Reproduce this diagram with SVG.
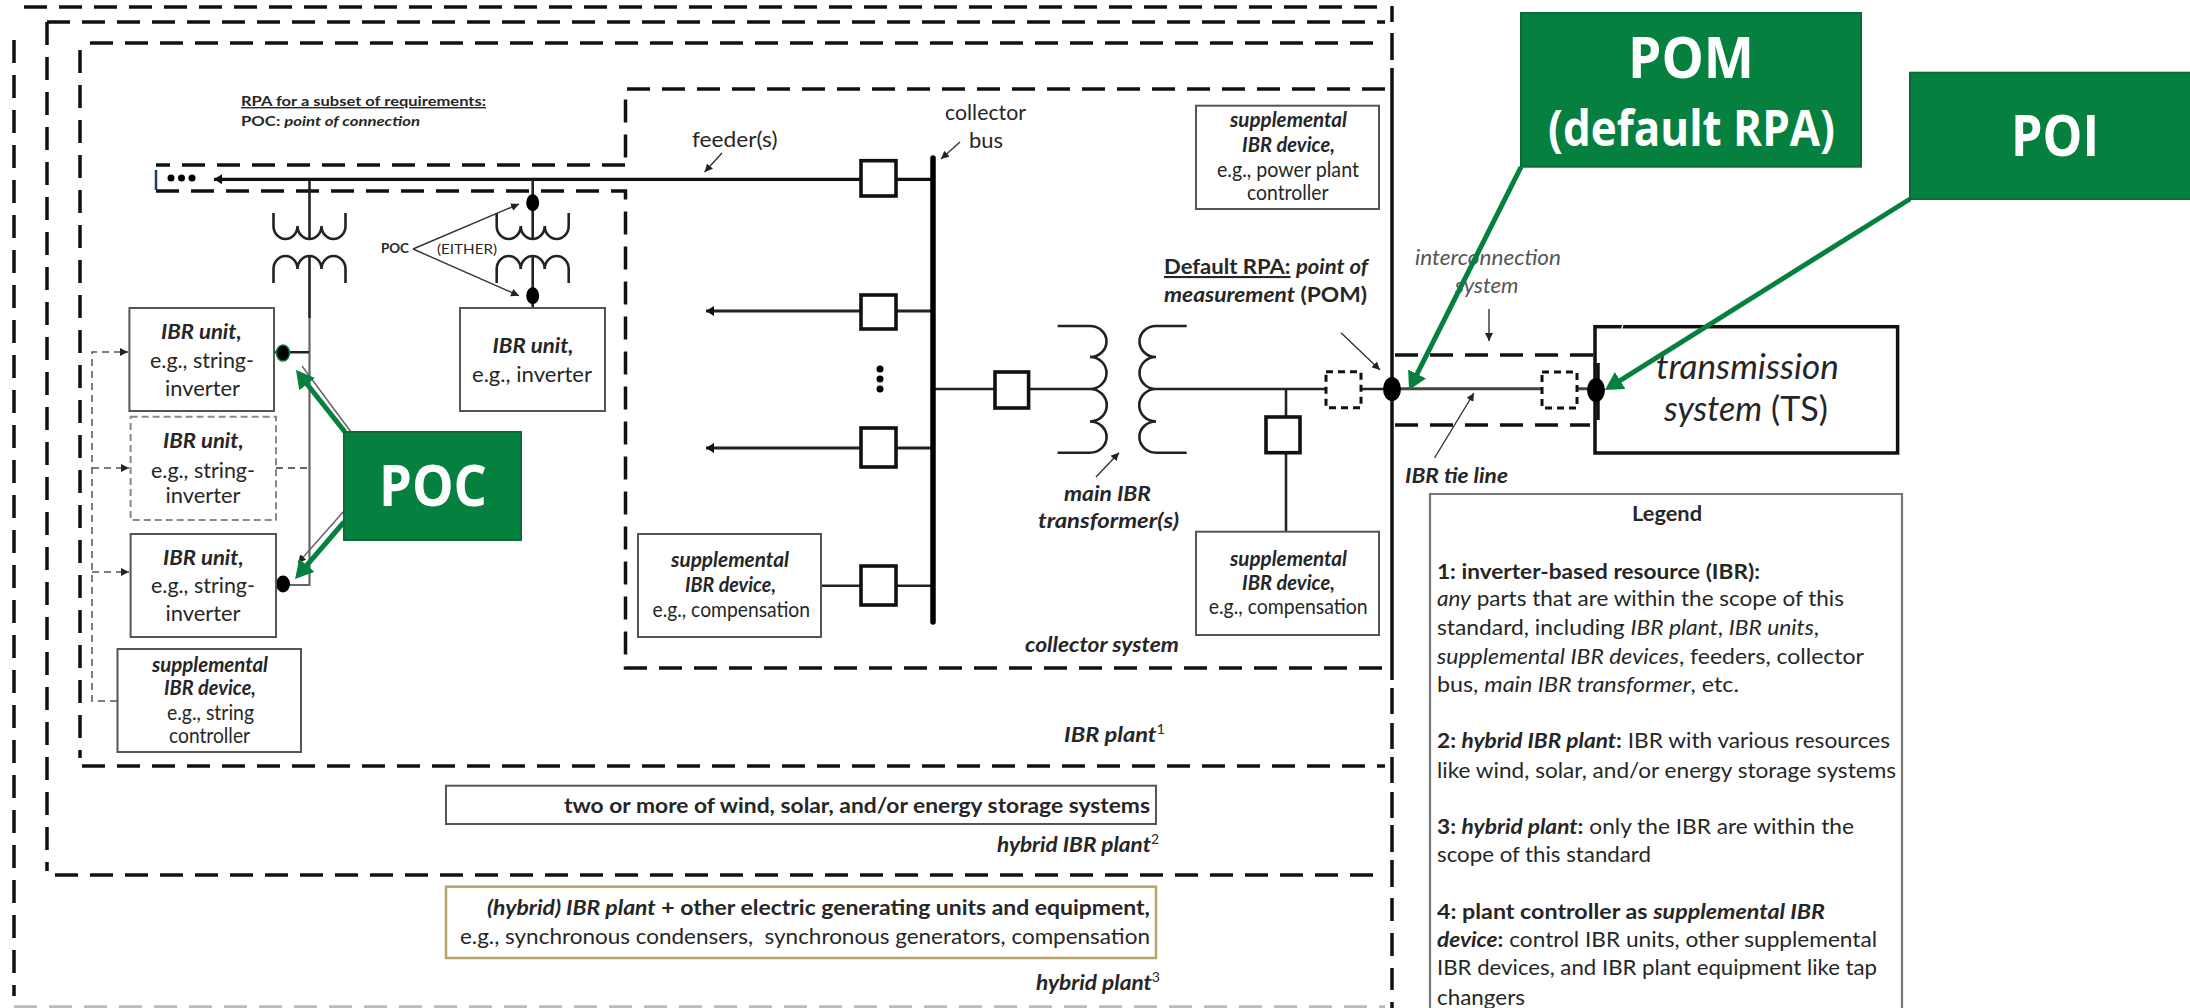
<svg xmlns="http://www.w3.org/2000/svg" width="2190" height="1008" viewBox="0 0 2190 1008">
<style>
text{font-family:Lato,"Noto Sans","Liberation Sans",sans-serif;fill:#262626;font-size:21px;white-space:pre}
.b{font-weight:700}.i{font-style:italic}.bi{font-weight:700;font-style:italic}
.d{fill:none;stroke:#111;stroke-width:3.5;stroke-dasharray:23 12}
.box{fill:#fff;stroke:#555;stroke-width:2}
.w{fill:none;stroke:#222;stroke-width:2.6}
.l{fill:none;stroke:#222;stroke-width:2.6}
.br{fill:#fff;stroke:#111;stroke-width:3.6}
.dbr{fill:#fff;stroke:#111;stroke-width:3;stroke-dasharray:7 5}
.thin{fill:none;stroke:#333;stroke-width:1.4;marker-end:url(#a)}
.ctl{fill:none;stroke:#555;stroke-width:1.5;stroke-dasharray:7 5}
.g{fill:#05803e;stroke:#0a6b38;stroke-width:2}
.gt{fill:#fff;font-family:"Open Sans","Noto Sans",sans-serif;font-weight:700}
.ga{fill:none;stroke:#05803e;stroke-width:5;marker-end:url(#ga)}
</style>
<defs>
<marker id="a" markerUnits="userSpaceOnUse" markerWidth="9" markerHeight="9" refX="8" refY="4" orient="auto"><path d="M0,0L8,4L0,8z" fill="#222"/></marker>
<marker id="f" markerUnits="userSpaceOnUse" markerWidth="10" markerHeight="12" refX="8" refY="6" orient="auto"><path d="M0,1L8,6L0,11z" fill="#111"/></marker>
<marker id="ga" markerUnits="userSpaceOnUse" markerWidth="24" markerHeight="24" refX="12" refY="10" orient="auto"><path d="M0,0L18,10L0,20z" fill="#05803e"/></marker>
</defs>
<rect width="2190" height="1008" fill="#fff"/>

<g id="boundaries">
<path class="d" d="M14,40V996"/>
<path class="d" d="M24,7H1380"/>
<path class="d" style="stroke:#bbb" d="M14,1007H1385"/>
<path class="d" d="M47,22H1385M47,22V871M55,875H1385"/>
<path class="d" d="M90,43H1385M80,50V758M82,766H1385"/>
<path class="d" d="M1385,89H625.5V164"/>
<path class="d" d="M625,165H156"/>
<path class="d" d="M156,191H625.5V668H1385"/>
<path d="M156,170V190" fill="none" stroke="#1f3a7a" stroke-width="2.5"/>
<path fill="none" stroke="#111" stroke-width="3.5" d="M1392,6V22M1392,33V60M1392,68V680M1392,688V714M1392,723V749M1392,757V783M1392,792V818M1392,825V852M1392,860V887M1392,898V921M1392,933V956M1392,968V990M1392,1002V1008"/>
<path class="d" d="M1395,355H1595M1395,425H1590"/>
</g>

<g id="connectors">
<path d="M933,179.300H214" fill="none" stroke="#111" stroke-width="3.2" marker-end="url(#f)"/>
<path d="M933,311H706" fill="none" stroke="#222" stroke-width="2.8" marker-end="url(#f)"/>
<path d="M933,448H706" fill="none" stroke="#222" stroke-width="2.8" marker-end="url(#f)"/>
<path class="l" d="M821,585.700H933M933,389H1090M1156,389H1392M1286,389V532"/>
<path d="M1392,388.700H1596" fill="none" stroke="#444" stroke-width="3"/>
<path d="M933,158V622" fill="none" stroke="#000" stroke-width="5.500" stroke-linecap="round"/>
<path class="l" d="M309.500,180V240M309.500,256V318"/>
<path d="M309.500,318V585H276" fill="none" stroke="#666" stroke-width="2.200"/>
<path class="l" d="M274,352.300H309"/>
<path d="M276,468H309" fill="none" stroke="#666" stroke-width="2" stroke-dasharray="7 5"/>
<path class="l" d="M532.700,180V240M532.700,256V308"/>
<path class="w" d="M273.500,213V226a12,13 0 0 0 24,0a12,13 0 0 0 24,0a12,13 0 0 0 24,0V213M273.500,283V269a12,13 0 0 1 24,0a12,13 0 0 1 24,0a12,13 0 0 1 24,0V283"/>
<path class="w" d="M496.700,213V226a12,13 0 0 0 24,0a12,13 0 0 0 24,0a12,13 0 0 0 24,0V213M496.700,283V269a12,13 0 0 1 24,0a12,13 0 0 1 24,0a12,13 0 0 1 24,0V283"/>
<path class="w" d="M1057.600,326H1090A16.500,15.500 0 0 1 1090,357A16.500,16 0 0 1 1090,389A16.500,16 0 0 1 1090,421.500A16.500,15.500 0 0 1 1090,452.700H1057.600"/>
<path class="w" d="M1186.700,326H1156A16.500,15.500 0 0 0 1156,357A16.500,16 0 0 0 1156,389A16.500,16 0 0 0 1156,421.500A16.500,15.500 0 0 0 1156,452.700H1186.700"/>
<path class="ctl" d="M117,701H92V352H128" marker-end="url(#a)"/>
<path class="ctl" d="M92,468H129" marker-end="url(#a)"/>
<path class="ctl" d="M92,572H129" marker-end="url(#a)"/>
<path class="thin" d="M413,249L519,204"/>
<path class="thin" d="M413,249L519,295.700"/>
<path class="thin" d="M722,153L704.600,172"/>
<path class="thin" d="M960,142L941,159"/>
<path class="thin" d="M1341,332.700L1380,370"/>
<path class="thin" d="M1096,477L1119,452.700"/>
<path class="thin" d="M1489,309V341"/>
<path class="thin" d="M1434.500,458L1474,393"/>
<path d="M351,432L302,366M344,511L298,563" fill="none" stroke="#666" stroke-width="1.500" marker-end="url(#a)"/>
</g>

<g id="dots" fill="#000">
<circle cx="171" cy="178" r="3.500"/><circle cx="181.500" cy="178" r="3.500"/><circle cx="192" cy="178" r="3.500"/>
<circle cx="880" cy="369" r="3.500"/><circle cx="880" cy="379" r="3.500"/><circle cx="880" cy="389" r="3.500"/>
<ellipse cx="283" cy="353" rx="6.500" ry="8" stroke="#05803e" stroke-width="1.500"/>
<ellipse cx="283" cy="584" rx="7" ry="8.500"/>
<ellipse cx="532.700" cy="202.700" rx="6.500" ry="8.500"/>
<ellipse cx="532.700" cy="295.700" rx="6.500" ry="8.500"/>
<ellipse cx="1392" cy="389" rx="9" ry="12"/>
</g>

<g id="breakers">
<rect class="br" x="861" y="160.700" width="35" height="35.300"/>
<rect class="br" x="861" y="295" width="35" height="34"/>
<rect class="br" x="861" y="428" width="35" height="39"/>
<rect class="br" x="861" y="566" width="35" height="39"/>
<rect class="br" x="995" y="372" width="33.600" height="36"/>
<rect class="br" x="1266" y="417" width="34" height="35.700"/>
<rect class="dbr" x="1326" y="371.700" width="35" height="36"/>
<rect class="dbr" x="1542" y="372" width="35" height="36"/>
</g>

<g id="unit-1"><rect class="box" x="129.400" y="308" width="144.600" height="103"/>
<text class="bi" x="161" y="339" textLength="80.600" lengthAdjust="spacingAndGlyphs">IBR unit,</text>
<text x="150" y="367.700" textLength="104" lengthAdjust="spacingAndGlyphs">e.g., string-</text>
<text x="165" y="395.700" textLength="75" lengthAdjust="spacingAndGlyphs">inverter</text></g>

<g id="unit-2"><rect x="130.600" y="416.700" width="145.400" height="103.300" fill="#fff" stroke="#888" stroke-width="2" stroke-dasharray="7 4"/>
<text class="bi" x="163" y="448" textLength="80.600" lengthAdjust="spacingAndGlyphs">IBR unit,</text>
<text x="151" y="477.700" textLength="104" lengthAdjust="spacingAndGlyphs">e.g., string-</text>
<text x="165.500" y="503" textLength="75" lengthAdjust="spacingAndGlyphs">inverter</text></g>

<g id="unit-3"><rect class="box" x="130.600" y="534" width="145.400" height="103"/>
<text class="bi" x="163" y="565" textLength="80.600" lengthAdjust="spacingAndGlyphs">IBR unit,</text>
<text x="151" y="593" textLength="104" lengthAdjust="spacingAndGlyphs">e.g., string-</text>
<text x="165.500" y="621" textLength="75" lengthAdjust="spacingAndGlyphs">inverter</text></g>

<g id="supp-string"><rect class="box" x="117.500" y="649" width="183.500" height="103"/>
<text class="bi" x="152" y="671.700" textLength="116" lengthAdjust="spacingAndGlyphs">supplemental</text>
<text class="bi" x="164" y="695" textLength="92" lengthAdjust="spacingAndGlyphs">IBR device,</text>
<text x="167" y="720" textLength="87" lengthAdjust="spacingAndGlyphs">e.g., string</text>
<text x="169" y="743" textLength="81" lengthAdjust="spacingAndGlyphs">controller</text></g>

<g id="unit-inverter"><rect class="box" x="460" y="308" width="145" height="103"/>
<text class="bi" x="492.600" y="353" textLength="81" lengthAdjust="spacingAndGlyphs">IBR unit,</text>
<text x="472" y="381.700" textLength="120" lengthAdjust="spacingAndGlyphs">e.g., inverter</text></g>

<g id="supp-controller"><rect class="box" x="1196" y="105.700" width="183" height="103.300"/>
<text class="bi" x="1230" y="126.700" textLength="117" lengthAdjust="spacingAndGlyphs">supplemental</text>
<text class="bi" x="1242" y="152" textLength="93" lengthAdjust="spacingAndGlyphs">IBR device,</text>
<text x="1217" y="176.700" textLength="142" lengthAdjust="spacingAndGlyphs">e.g., power plant</text>
<text x="1247" y="200" textLength="81.600" lengthAdjust="spacingAndGlyphs">controller</text></g>

<g id="supp-comp-left"><rect class="box" x="638" y="534" width="183" height="103"/>
<text class="bi" x="671" y="567" textLength="118" lengthAdjust="spacingAndGlyphs">supplemental</text>
<text class="bi" x="685" y="591.700" textLength="91" lengthAdjust="spacingAndGlyphs">IBR device,</text>
<text x="652.500" y="616.700" textLength="157.500" lengthAdjust="spacingAndGlyphs">e.g., compensation</text></g>

<g id="supp-comp-right"><rect class="box" x="1196" y="531.700" width="183" height="103.300"/>
<text class="bi" x="1230" y="566" textLength="117" lengthAdjust="spacingAndGlyphs">supplemental</text>
<text class="bi" x="1242" y="590" textLength="93" lengthAdjust="spacingAndGlyphs">IBR device,</text>
<text x="1208.700" y="614" textLength="159" lengthAdjust="spacingAndGlyphs">e.g., compensation</text></g>

<g id="transmission-system"><rect x="1595" y="326.700" width="302.600" height="126.300" fill="#fff" stroke="#111" stroke-width="3.500"/>
<path d="M1598,363V420" stroke="#111" stroke-width="3.500"/>
<path d="M1623,324L1613,362" stroke="#fff" stroke-width="1.200"/>
<ellipse cx="1596" cy="390" rx="9" ry="12"/>
<text class="i" style="font-size:34px" x="1656" y="379" textLength="183" lengthAdjust="spacingAndGlyphs">transmission</text>
<text style="font-size:34px" x="1664" y="420.700" textLength="164" lengthAdjust="spacingAndGlyphs"><tspan class="i">system</tspan> (TS)</text></g>

<g id="labels">
<text class="b" style="font-size:14px;text-decoration:underline" x="241" y="106" textLength="245" lengthAdjust="spacingAndGlyphs">RPA for a subset of requirements:</text>
<text class="b" style="font-size:14px" x="241" y="126" textLength="179" lengthAdjust="spacingAndGlyphs">POC: <tspan class="bi">point of connection</tspan></text>
<text class="b" style="font-size:14px" x="381" y="253" textLength="28" lengthAdjust="spacingAndGlyphs">POC</text>
<text style="font-size:14px" x="437" y="254" textLength="60" lengthAdjust="spacingAndGlyphs">(EITHER)</text>
<text x="692" y="147" textLength="85.500" lengthAdjust="spacingAndGlyphs">feeder(s)</text>
<text x="945" y="120" textLength="81" lengthAdjust="spacingAndGlyphs">collector</text>
<text x="969" y="148" textLength="34" lengthAdjust="spacingAndGlyphs">bus</text>
<text class="b" x="1164" y="274" textLength="204" lengthAdjust="spacingAndGlyphs"><tspan style="text-decoration:underline">Default RPA:</tspan> <tspan class="bi">point of</tspan></text>
<text class="b" x="1164" y="302" textLength="203" lengthAdjust="spacingAndGlyphs"><tspan class="bi">measurement</tspan> (POM)</text>
<text class="bi" x="1064" y="500.700" textLength="87" lengthAdjust="spacingAndGlyphs">main IBR</text>
<text class="bi" x="1038" y="528" textLength="141" lengthAdjust="spacingAndGlyphs">transformer(s)</text>
<text class="bi" x="1025" y="651.700" textLength="154" lengthAdjust="spacingAndGlyphs">collector system</text>
<text class="bi" x="1064" y="742" textLength="101" lengthAdjust="spacingAndGlyphs">IBR plant<tspan dy="-8" style="font-size:13px;font-weight:400;font-style:normal">1</tspan></text>
<text class="i" style="fill:#555" x="1415" y="265" textLength="146" lengthAdjust="spacingAndGlyphs">interconnection</text>
<text class="i" style="fill:#555" x="1455" y="293" textLength="63.500" lengthAdjust="spacingAndGlyphs">system</text>
<text class="bi" x="1405" y="483" textLength="103" lengthAdjust="spacingAndGlyphs">IBR tie line</text>
<text class="bi" x="997" y="851.700" textLength="162" lengthAdjust="spacingAndGlyphs">hybrid IBR plant<tspan dy="-8" style="font-size:13px;font-weight:400;font-style:normal">2</tspan></text>
<text class="bi" x="1036" y="990" textLength="124" lengthAdjust="spacingAndGlyphs">hybrid plant<tspan dy="-8" style="font-size:13px;font-weight:400;font-style:normal">3</tspan></text>
</g>

<g id="box-hybrid-ibr"><rect class="box" x="446" y="785.700" width="710" height="38.300"/>
<text class="b" x="564" y="812.700" textLength="586" lengthAdjust="spacingAndGlyphs">two or more of wind, solar, and/or energy storage systems</text></g>

<g id="box-hybrid-plant"><rect x="446" y="886.700" width="710" height="71.300" fill="#fff" stroke="#b5a36b" stroke-width="2.500"/>
<text class="b" x="487" y="915" textLength="663" lengthAdjust="spacingAndGlyphs"><tspan class="bi">(hybrid) IBR plant</tspan> + other electric generating units and equipment,</text>
<text x="460" y="944" textLength="690" lengthAdjust="spacingAndGlyphs">e.g., synchronous condensers,  synchronous generators, compensation</text></g>

<g id="legend">
<path d="M1430,1008V494H1902V1008" fill="#fff" stroke="#777" stroke-width="2.200"/>
<text class="b" x="1632" y="521" textLength="70" lengthAdjust="spacingAndGlyphs">Legend</text>
<text class="b" x="1437" y="578.600" textLength="323" lengthAdjust="spacingAndGlyphs">1: inverter-based resource (IBR):</text>
<text x="1437" y="606" textLength="407" lengthAdjust="spacingAndGlyphs"><tspan class="i">any</tspan> parts that are within the scope of this</text>
<text x="1437" y="635" textLength="382" lengthAdjust="spacingAndGlyphs">standard, including <tspan class="i">IBR plant</tspan>, <tspan class="i">IBR units</tspan>,</text>
<text x="1437" y="664" textLength="427" lengthAdjust="spacingAndGlyphs"><tspan class="i">supplemental IBR devices</tspan>, feeders, collector</text>
<text x="1437" y="692" textLength="302" lengthAdjust="spacingAndGlyphs">bus, <tspan class="i">main IBR transformer</tspan>, etc.</text>
<text x="1437" y="748" textLength="453" lengthAdjust="spacingAndGlyphs"><tspan class="b">2: </tspan><tspan class="bi">hybrid IBR plant</tspan><tspan class="b">:</tspan> IBR with various resources</text>
<text x="1437" y="778" textLength="459" lengthAdjust="spacingAndGlyphs">like wind, solar, and/or energy storage systems</text>
<text x="1437" y="833.500" textLength="417" lengthAdjust="spacingAndGlyphs"><tspan class="b">3: </tspan><tspan class="bi">hybrid plant</tspan><tspan class="b">:</tspan> only the IBR are within the</text>
<text x="1437" y="862" textLength="214" lengthAdjust="spacingAndGlyphs">scope of this standard</text>
<text x="1437" y="919" textLength="388" lengthAdjust="spacingAndGlyphs"><tspan class="b">4: plant controller as </tspan><tspan class="bi">supplemental IBR</tspan></text>
<text x="1437" y="947" textLength="440" lengthAdjust="spacingAndGlyphs"><tspan class="bi">device</tspan><tspan class="b">:</tspan> control IBR units, other supplemental</text>
<text x="1437" y="975" textLength="440" lengthAdjust="spacingAndGlyphs">IBR devices, and IBR plant equipment like tap</text>
<text x="1437" y="1004.500" textLength="88" lengthAdjust="spacingAndGlyphs">changers</text>
</g>

<g id="callout-arrows">
<path class="ga" d="M345,432L299.700,374.700"/>
<path class="ga" d="M344,522L299,574.400"/>
<path class="ga" d="M1521,167L1411.700,384.600"/>
<path class="ga" d="M1910,199L1610,386.800"/>
</g>

<g id="callout-poc"><rect class="g" x="344" y="432" width="177" height="108"/>
<text class="gt" style="font-size:58px" x="379" y="506" textLength="108" lengthAdjust="spacingAndGlyphs">POC</text></g>
<g id="callout-pom"><rect class="g" x="1521" y="13" width="340" height="153.700"/>
<text class="gt" style="font-size:58px" x="1628" y="78" textLength="126" lengthAdjust="spacingAndGlyphs">POM</text>
<text class="gt" style="font-size:50px" x="1548" y="145.700" textLength="287" lengthAdjust="spacingAndGlyphs">(default RPA)</text></g>
<g id="callout-poi"><rect class="g" x="1910" y="72.700" width="282" height="126.300"/>
<text class="gt" style="font-size:58px" x="2011" y="156" textLength="88" lengthAdjust="spacingAndGlyphs">POI</text></g>
</svg>
